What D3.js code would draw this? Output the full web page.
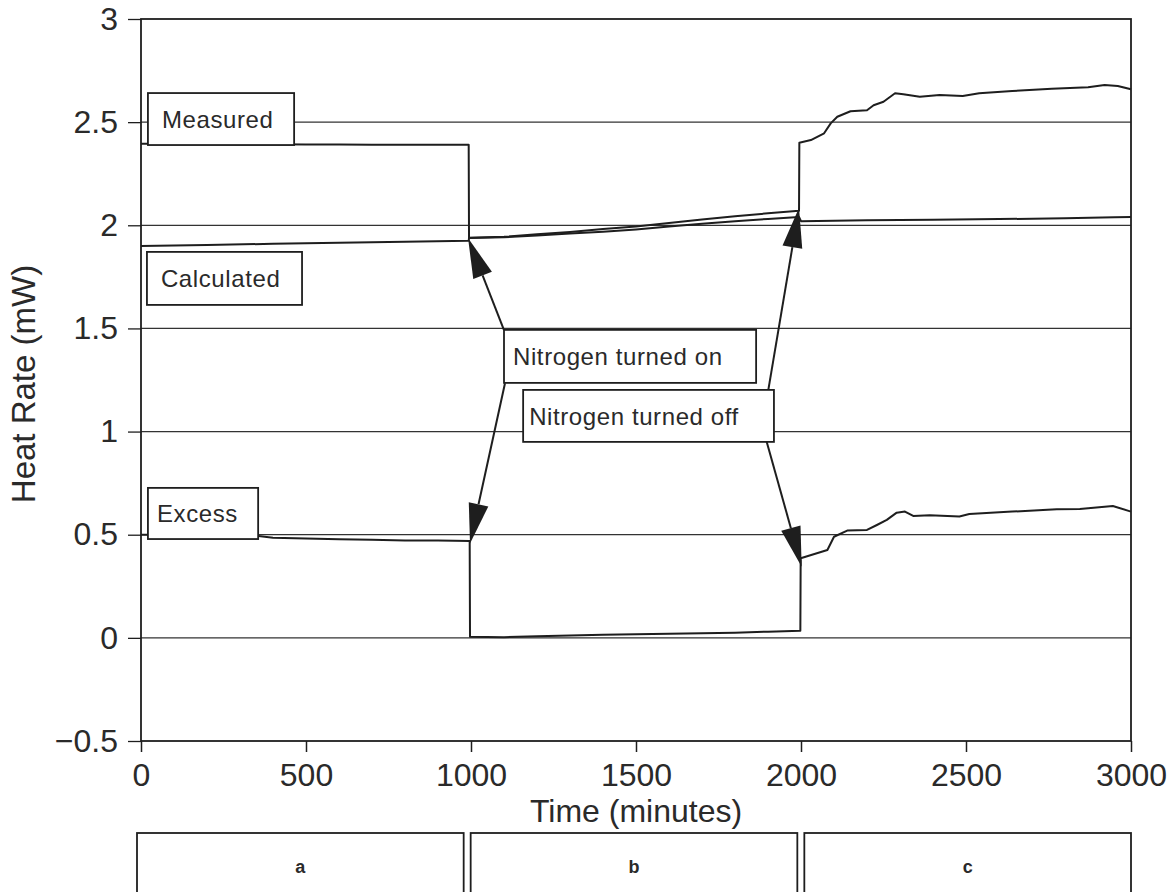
<!DOCTYPE html>
<html><head><meta charset="utf-8">
<script src="https://cdn.jsdelivr.net/npm/d3@7"></script>
<style>
body{margin:0;background:#fff}
svg{display:block}
text{font-family:"Liberation Sans",Arial,Helvetica,sans-serif;fill:#2a2a2a}
</style>
</head><body>
<svg id="chart" width="1174" height="892"></svg>
<script>
// ---------- data (time in minutes, heat rate in mW) ----------
const measured = [
  [0,2.395],[100,2.395],[200,2.394],[300,2.393],[400,2.393],[500,2.392],[600,2.392],
  [700,2.391],[800,2.391],[900,2.390],[993,2.390],[994,1.940],[1100,1.944],[1200,1.956],
  [1300,1.968],[1400,1.982],[1500,1.994],[1600,2.011],[1700,2.028],[1800,2.044],
  [1900,2.058],[1994,2.070],[1995,2.400],[2030,2.413],[2070,2.446],[2090,2.494],
  [2110,2.526],[2150,2.553],[2200,2.558],[2220,2.582],[2250,2.599],[2285,2.640],
  [2310,2.635],[2360,2.623],[2420,2.631],[2490,2.627],[2540,2.640],[2640,2.651],
  [2760,2.662],[2870,2.669],[2920,2.680],[2960,2.675],[3000,2.659]
];
const calculated = [
  [0,1.900],[200,1.905],[400,1.910],[600,1.915],[800,1.920],[993,1.925],[994,1.938],
  [1100,1.942],[1200,1.951],[1300,1.960],[1400,1.969],[1500,1.980],[1600,1.994],
  [1700,2.007],[1800,2.019],[1900,2.031],[1994,2.040],[2000,2.020],[2200,2.024],
  [2400,2.027],[2600,2.030],[2800,2.034],[2950,2.039],[3000,2.040]
];
const excess = [
  [0,0.500],[100,0.500],[200,0.500],[300,0.498],[350,0.495],[400,0.485],[500,0.482],
  [600,0.478],[700,0.475],[800,0.472],[900,0.472],[996,0.470],[997,0.005],[1100,0.003],
  [1200,0.008],[1300,0.012],[1400,0.015],[1500,0.018],[1600,0.020],[1700,0.022],
  [1800,0.025],[1900,0.030],[1998,0.035],[1999,0.386],[2080,0.426],[2100,0.490],
  [2140,0.520],[2200,0.523],[2230,0.547],[2260,0.572],[2290,0.607],[2315,0.612],
  [2340,0.591],[2390,0.594],[2480,0.588],[2510,0.600],[2640,0.612],[2775,0.623],
  [2845,0.625],[2945,0.639],[3000,0.612]
];
const series = [measured, calculated, excess];

const xTicks = [0,500,1000,1500,2000,2500,3000];
const yTicks = [-0.5,0,0.5,1,1.5,2,2.5,3];
const yTickLabels = ["\u22120.5","0","0.5","1","1.5","2","2.5","3"];
const gridValues = [0,0.5,1,1.5,2,2.5];

// annotation boxes in data coordinates: [t0, t1, vTop, vBottom]
const boxTexts = ["Measured","Calculated","Excess","Nitrogen turned on","Nitrogen turned off"];
const boxExtents = [
  [21,464,2.641,2.389],
  [18,488,1.871,1.614],
  [21,355,0.727,0.479],
  [1100,1864,1.493,1.236],
  [1158,1918,1.202,0.950]
];
const boxPad = [14,14,9,9,6];
// arrows: from [t,v] to tip [t,v]
const arrows = [
  [[1100,1.492],[991,1.938]],
  [[1103,1.234],[997,0.458]],
  [[1901,1.202],[1994,2.085]],
  [[1896,0.951],[2002,0.345]]
];
const phases = ["a","b","c"];

// ---------- drawing ----------
const svg = d3.select("#chart");
const x = d3.scaleLinear().domain([0,3000]).range([141,1131]);
const y = d3.scaleLinear().domain([-0.5,3]).range([741,19]);
const ink = "#1e1e1e";

// grid lines
svg.append("g").selectAll("line").data(gridValues).join("line")
  .attr("x1", x(0)).attr("x2", x(3000))
  .attr("y1", d => y(d)).attr("y2", d => y(d))
  .attr("stroke", "#333").attr("stroke-width", 1.3);

// axes
const yAxis = svg.append("g").attr("transform", `translate(${x(0)},0)`)
  .call(d3.axisLeft(y).tickValues(yTicks).tickSize(13).tickPadding(10)
        .tickFormat((d,i) => yTickLabels[i]));
yAxis.select(".domain").remove();
yAxis.selectAll(".tick line").attr("stroke", ink).attr("stroke-width", 1.3);
yAxis.selectAll(".tick text").attr("font-size", 32).attr("fill", "#2a2a2a");

const xAxis = svg.append("g").attr("transform", `translate(0,${y(-0.5)})`)
  .call(d3.axisBottom(x).tickValues(xTicks).tickSize(11).tickPadding(11)
        .tickFormat(d3.format("d")));
xAxis.select(".domain").remove();
xAxis.selectAll(".tick line").attr("stroke", ink).attr("stroke-width", 1.5);
xAxis.selectAll(".tick text").attr("font-size", 32).attr("fill", "#2a2a2a");

// frame
svg.append("rect")
  .attr("x", x(0)).attr("y", y(3))
  .attr("width", x(3000) - x(0)).attr("height", y(-0.5) - y(3))
  .attr("fill", "none").attr("stroke", ink).attr("stroke-width", 1.8);

// axis titles
svg.append("text")
  .attr("x", (x(0) + x(3000)) / 2).attr("y", 822)
  .attr("text-anchor", "middle").attr("font-size", 32)
  .text("Time (minutes)");
svg.append("text")
  .attr("transform", `translate(35,${384}) rotate(-90)`)
  .attr("text-anchor", "middle").attr("font-size", 33)
  .text("Heat Rate (mW)");

// data lines
const line = d3.line().x(d => x(d[0])).y(d => y(d[1]));
svg.append("g").selectAll("path").data(series).join("path")
  .attr("d", line)
  .attr("fill", "none").attr("stroke", ink).attr("stroke-width", 2)
  .attr("stroke-linejoin", "round");

// annotation boxes
const boxes = svg.append("g").selectAll("g").data(boxTexts).join("g");
boxes.append("rect")
  .attr("x", (d,i) => x(boxExtents[i][0]))
  .attr("y", (d,i) => y(boxExtents[i][2]))
  .attr("width", (d,i) => x(boxExtents[i][1]) - x(boxExtents[i][0]))
  .attr("height", (d,i) => y(boxExtents[i][3]) - y(boxExtents[i][2]))
  .attr("fill", "#fff").attr("stroke", ink).attr("stroke-width", 1.8);
boxes.append("text")
  .attr("x", (d,i) => x(boxExtents[i][0]) + boxPad[i])
  .attr("y", (d,i) => (y(boxExtents[i][2]) + y(boxExtents[i][3])) / 2)
  .attr("dy", "0.36em")
  .attr("font-size", 24).attr("letter-spacing", 0.6)
  .text(d => d);

// arrows
const HL = 40, HW = 10;
const ag = svg.append("g");
arrows.forEach(([from, to]) => {
  const p0 = [x(from[0]), y(from[1])], p1 = [x(to[0]), y(to[1])];
  const dx = p1[0] - p0[0], dy = p1[1] - p0[1], len = Math.hypot(dx, dy);
  const ux = dx / len, uy = dy / len, nx = -uy, ny = ux;
  const bx = p1[0] - HL * ux, by = p1[1] - HL * uy;
  ag.append("line")
    .attr("x1", p0[0]).attr("y1", p0[1]).attr("x2", bx).attr("y2", by)
    .attr("stroke", ink).attr("stroke-width", 2);
  ag.append("path")
    .attr("d", `M${p1[0]},${p1[1]}L${bx + HW*nx},${by + HW*ny}L${bx - HW*nx},${by - HW*ny}Z`)
    .attr("fill", ink);
});

// phase boxes below the axis
const left0 = x(0) - 4, right0 = x(3000), gap = 7;
const pw = (right0 - left0 - 2 * gap) / phases.length;
const pg = svg.append("g").selectAll("g").data(phases).join("g");
pg.append("rect")
  .attr("x", (d,i) => left0 + i * (pw + gap)).attr("y", 833)
  .attr("width", pw).attr("height", 80)
  .attr("fill", "#fff").attr("stroke", ink).attr("stroke-width", 1.8);
pg.append("text")
  .attr("x", (d,i) => left0 + i * (pw + gap) + pw / 2).attr("y", 867)
  .attr("dy", "0.35em").attr("text-anchor", "middle")
  .attr("font-size", 18).attr("font-weight", "bold")
  .text(d => d);
</script>
</body></html>
